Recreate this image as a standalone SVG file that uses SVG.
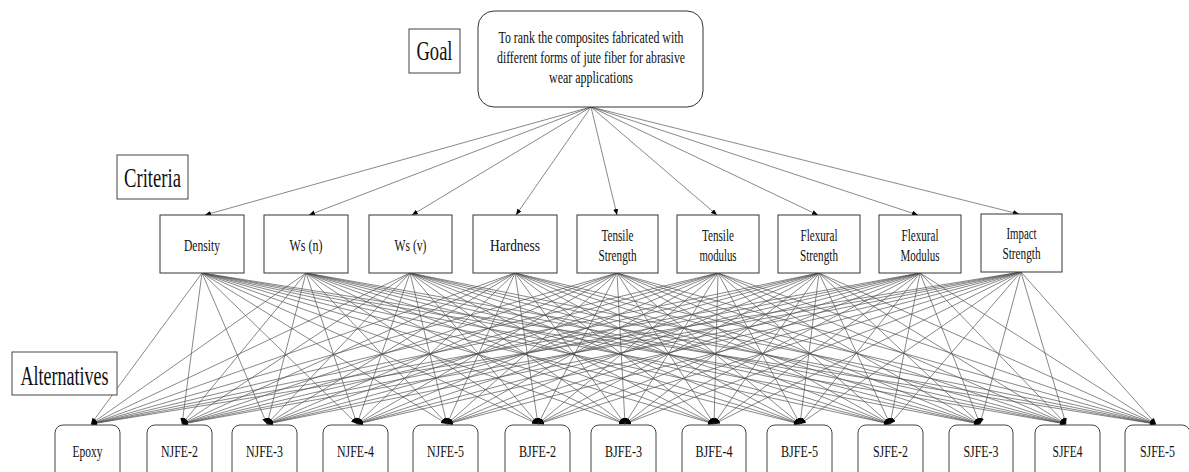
<svg xmlns="http://www.w3.org/2000/svg" width="1189" height="472" viewBox="0 0 1189 472">
<style>
.bg{fill:#fff}
.lbl{fill:#fff;stroke:#444;stroke-width:1}
.crit{fill:#fff;stroke:#333;stroke-width:1}
.alt{fill:#fff;stroke:#444;stroke-width:1}
.goal{fill:#fff;stroke:#333;stroke-width:1}
text{font-family:"Liberation Serif","Times New Roman",serif;fill:#111;text-anchor:middle}
.big{font-size:28px}
.t{font-size:16px}
.c{font-size:16.5px}
.a{font-size:17px}
.con line{stroke:#555;stroke-width:0.7;marker-end:url(#ah)}
</style>
<defs>
<marker id="ah" markerUnits="userSpaceOnUse" markerWidth="7" markerHeight="6" refX="6" refY="2.5" orient="auto">
<path d="M0,0 L6,2.5 L0,5 z" fill="#000"/>
</marker>
</defs>
<rect class="bg" x="0" y="0" width="1189" height="472"/>
<g id="connectors" class="con">
<line x1="591" y1="107" x2="205" y2="215"/>
<line x1="591" y1="107" x2="309" y2="215"/>
<line x1="591" y1="107" x2="412" y2="215"/>
<line x1="591" y1="107" x2="516" y2="215"/>
<line x1="591" y1="107" x2="617" y2="215"/>
<line x1="591" y1="107" x2="717" y2="215"/>
<line x1="591" y1="107" x2="818" y2="215"/>
<line x1="591" y1="107" x2="918" y2="215"/>
<line x1="591" y1="107" x2="1019" y2="214"/>
<line x1="202" y1="273" x2="91" y2="424"/><line x1="202" y1="273" x2="182" y2="424"/><line x1="202" y1="273" x2="267" y2="424"/><line x1="202" y1="273" x2="357" y2="424"/><line x1="202" y1="273" x2="447" y2="424"/><line x1="202" y1="273" x2="538" y2="424"/><line x1="202" y1="273" x2="625" y2="424"/><line x1="202" y1="273" x2="714" y2="424"/><line x1="202" y1="273" x2="800" y2="424"/><line x1="202" y1="273" x2="890" y2="424"/><line x1="202" y1="273" x2="980" y2="424"/><line x1="202" y1="273" x2="1066" y2="424"/><line x1="202" y1="273" x2="1156" y2="424"/>
<line x1="306" y1="273" x2="91" y2="424"/><line x1="306" y1="273" x2="182" y2="424"/><line x1="306" y1="273" x2="267" y2="424"/><line x1="306" y1="273" x2="357" y2="424"/><line x1="306" y1="273" x2="447" y2="424"/><line x1="306" y1="273" x2="538" y2="424"/><line x1="306" y1="273" x2="625" y2="424"/><line x1="306" y1="273" x2="714" y2="424"/><line x1="306" y1="273" x2="800" y2="424"/><line x1="306" y1="273" x2="890" y2="424"/><line x1="306" y1="273" x2="980" y2="424"/><line x1="306" y1="273" x2="1066" y2="424"/><line x1="306" y1="273" x2="1156" y2="424"/>
<line x1="410" y1="273" x2="91" y2="424"/><line x1="410" y1="273" x2="182" y2="424"/><line x1="410" y1="273" x2="267" y2="424"/><line x1="410" y1="273" x2="357" y2="424"/><line x1="410" y1="273" x2="447" y2="424"/><line x1="410" y1="273" x2="538" y2="424"/><line x1="410" y1="273" x2="625" y2="424"/><line x1="410" y1="273" x2="714" y2="424"/><line x1="410" y1="273" x2="800" y2="424"/><line x1="410" y1="273" x2="890" y2="424"/><line x1="410" y1="273" x2="980" y2="424"/><line x1="410" y1="273" x2="1066" y2="424"/><line x1="410" y1="273" x2="1156" y2="424"/>
<line x1="515" y1="273" x2="91" y2="424"/><line x1="515" y1="273" x2="182" y2="424"/><line x1="515" y1="273" x2="267" y2="424"/><line x1="515" y1="273" x2="357" y2="424"/><line x1="515" y1="273" x2="447" y2="424"/><line x1="515" y1="273" x2="538" y2="424"/><line x1="515" y1="273" x2="625" y2="424"/><line x1="515" y1="273" x2="714" y2="424"/><line x1="515" y1="273" x2="800" y2="424"/><line x1="515" y1="273" x2="890" y2="424"/><line x1="515" y1="273" x2="980" y2="424"/><line x1="515" y1="273" x2="1066" y2="424"/><line x1="515" y1="273" x2="1156" y2="424"/>
<line x1="617" y1="273" x2="91" y2="424"/><line x1="617" y1="273" x2="182" y2="424"/><line x1="617" y1="273" x2="267" y2="424"/><line x1="617" y1="273" x2="357" y2="424"/><line x1="617" y1="273" x2="447" y2="424"/><line x1="617" y1="273" x2="538" y2="424"/><line x1="617" y1="273" x2="625" y2="424"/><line x1="617" y1="273" x2="714" y2="424"/><line x1="617" y1="273" x2="800" y2="424"/><line x1="617" y1="273" x2="890" y2="424"/><line x1="617" y1="273" x2="980" y2="424"/><line x1="617" y1="273" x2="1066" y2="424"/><line x1="617" y1="273" x2="1156" y2="424"/>
<line x1="718" y1="273" x2="91" y2="424"/><line x1="718" y1="273" x2="182" y2="424"/><line x1="718" y1="273" x2="267" y2="424"/><line x1="718" y1="273" x2="357" y2="424"/><line x1="718" y1="273" x2="447" y2="424"/><line x1="718" y1="273" x2="538" y2="424"/><line x1="718" y1="273" x2="625" y2="424"/><line x1="718" y1="273" x2="714" y2="424"/><line x1="718" y1="273" x2="800" y2="424"/><line x1="718" y1="273" x2="890" y2="424"/><line x1="718" y1="273" x2="980" y2="424"/><line x1="718" y1="273" x2="1066" y2="424"/><line x1="718" y1="273" x2="1156" y2="424"/>
<line x1="819" y1="273" x2="91" y2="424"/><line x1="819" y1="273" x2="182" y2="424"/><line x1="819" y1="273" x2="267" y2="424"/><line x1="819" y1="273" x2="357" y2="424"/><line x1="819" y1="273" x2="447" y2="424"/><line x1="819" y1="273" x2="538" y2="424"/><line x1="819" y1="273" x2="625" y2="424"/><line x1="819" y1="273" x2="714" y2="424"/><line x1="819" y1="273" x2="800" y2="424"/><line x1="819" y1="273" x2="890" y2="424"/><line x1="819" y1="273" x2="980" y2="424"/><line x1="819" y1="273" x2="1066" y2="424"/><line x1="819" y1="273" x2="1156" y2="424"/>
<line x1="920" y1="273" x2="91" y2="424"/><line x1="920" y1="273" x2="182" y2="424"/><line x1="920" y1="273" x2="267" y2="424"/><line x1="920" y1="273" x2="357" y2="424"/><line x1="920" y1="273" x2="447" y2="424"/><line x1="920" y1="273" x2="538" y2="424"/><line x1="920" y1="273" x2="625" y2="424"/><line x1="920" y1="273" x2="714" y2="424"/><line x1="920" y1="273" x2="800" y2="424"/><line x1="920" y1="273" x2="890" y2="424"/><line x1="920" y1="273" x2="980" y2="424"/><line x1="920" y1="273" x2="1066" y2="424"/><line x1="920" y1="273" x2="1156" y2="424"/>
<line x1="1021" y1="272" x2="91" y2="424"/><line x1="1021" y1="272" x2="182" y2="424"/><line x1="1021" y1="272" x2="267" y2="424"/><line x1="1021" y1="272" x2="357" y2="424"/><line x1="1021" y1="272" x2="447" y2="424"/><line x1="1021" y1="272" x2="538" y2="424"/><line x1="1021" y1="272" x2="625" y2="424"/><line x1="1021" y1="272" x2="714" y2="424"/><line x1="1021" y1="272" x2="800" y2="424"/><line x1="1021" y1="272" x2="890" y2="424"/><line x1="1021" y1="272" x2="980" y2="424"/><line x1="1021" y1="272" x2="1066" y2="424"/><line x1="1021" y1="272" x2="1156" y2="424"/>
</g>
<g id="label-goal"><rect class="lbl" x="409" y="29" width="51" height="44"/><text class="big" x="434.5" y="60" textLength="36" lengthAdjust="spacingAndGlyphs">Goal</text></g>
<g id="label-criteria"><rect class="lbl" x="117" y="155" width="71" height="44"/><text class="big" x="152.5" y="187" textLength="57" lengthAdjust="spacingAndGlyphs">Criteria</text></g>
<g id="label-alternatives"><rect class="lbl" x="12" y="352" width="105" height="43"/><text class="big" x="64.5" y="385" textLength="88" lengthAdjust="spacingAndGlyphs">Alternatives</text></g>
<g id="goal"><rect class="goal" x="478" y="11" width="225" height="96" rx="16"/>
<text class="t" x="591" y="43" textLength="185" lengthAdjust="spacingAndGlyphs">To rank the composites fabricated with</text>
<text class="t" x="591" y="63" textLength="188" lengthAdjust="spacingAndGlyphs">different forms of jute fiber for abrasive</text>
<text class="t" x="591" y="83" textLength="84" lengthAdjust="spacingAndGlyphs">wear applications</text></g>
<g id="c-density"><rect class="crit" x="160" y="215" width="84" height="58"/><text class="c" x="202" y="251" textLength="36" lengthAdjust="spacingAndGlyphs">Density</text></g>
<g id="c-wsn"><rect class="crit" x="264" y="215" width="84" height="58"/><text class="c" x="306" y="251" textLength="33" lengthAdjust="spacingAndGlyphs">Ws (n)</text></g>
<g id="c-wsv"><rect class="crit" x="369" y="215" width="83" height="58"/><text class="c" x="410.5" y="251" textLength="32" lengthAdjust="spacingAndGlyphs">Ws (v)</text></g>
<g id="c-hardness"><rect class="crit" x="473" y="215" width="84" height="58"/><text class="c" x="515" y="251" textLength="50" lengthAdjust="spacingAndGlyphs">Hardness</text></g>
<g id="c-tensile-strength"><rect class="crit" x="577" y="215" width="81" height="58"/><text class="c" x="617.5" y="241" textLength="32" lengthAdjust="spacingAndGlyphs">Tensile</text><text class="c" x="617.5" y="261" textLength="38" lengthAdjust="spacingAndGlyphs">Strength</text></g>
<g id="c-tensile-modulus"><rect class="crit" x="677" y="215" width="82" height="58"/><text class="c" x="718" y="241" textLength="32" lengthAdjust="spacingAndGlyphs">Tensile</text><text class="c" x="718" y="261" textLength="37" lengthAdjust="spacingAndGlyphs">modulus</text></g>
<g id="c-flexural-strength"><rect class="crit" x="778" y="215" width="82" height="58"/><text class="c" x="819" y="241" textLength="37" lengthAdjust="spacingAndGlyphs">Flexural</text><text class="c" x="819" y="261" textLength="38" lengthAdjust="spacingAndGlyphs">Strength</text></g>
<g id="c-flexural-modulus"><rect class="crit" x="879" y="215" width="82" height="58"/><text class="c" x="920" y="241" textLength="37" lengthAdjust="spacingAndGlyphs">Flexural</text><text class="c" x="920" y="261" textLength="39" lengthAdjust="spacingAndGlyphs">Modulus</text></g>
<g id="c-impact-strength"><rect class="crit" x="981" y="214" width="81" height="58"/><text class="c" x="1021.5" y="239" textLength="30" lengthAdjust="spacingAndGlyphs">Impact</text><text class="c" x="1021.5" y="259" textLength="38" lengthAdjust="spacingAndGlyphs">Strength</text></g>
<g id="a-epoxy"><rect class="alt" x="55" y="425" width="65" height="62" rx="8"/><text class="a" x="87.5" y="457" textLength="30" lengthAdjust="spacingAndGlyphs">Epoxy</text></g>
<g id="a-njfe2"><rect class="alt" x="147" y="425" width="65" height="62" rx="8"/><text class="a" x="179.5" y="457" textLength="37" lengthAdjust="spacingAndGlyphs">NJFE-2</text></g>
<g id="a-njfe3"><rect class="alt" x="232" y="425" width="65" height="62" rx="8"/><text class="a" x="264.5" y="457" textLength="37" lengthAdjust="spacingAndGlyphs">NJFE-3</text></g>
<g id="a-njfe4"><rect class="alt" x="323" y="425" width="65" height="62" rx="8"/><text class="a" x="355.5" y="457" textLength="37" lengthAdjust="spacingAndGlyphs">NJFE-4</text></g>
<g id="a-njfe5"><rect class="alt" x="413" y="425" width="65" height="62" rx="8"/><text class="a" x="445.5" y="457" textLength="37" lengthAdjust="spacingAndGlyphs">NJFE-5</text></g>
<g id="a-bjfe2"><rect class="alt" x="505" y="425" width="65" height="62" rx="8"/><text class="a" x="537.5" y="457" textLength="37" lengthAdjust="spacingAndGlyphs">BJFE-2</text></g>
<g id="a-bjfe3"><rect class="alt" x="591" y="425" width="65" height="62" rx="8"/><text class="a" x="623.5" y="457" textLength="37" lengthAdjust="spacingAndGlyphs">BJFE-3</text></g>
<g id="a-bjfe4"><rect class="alt" x="682" y="425" width="64" height="62" rx="8"/><text class="a" x="714" y="457" textLength="37" lengthAdjust="spacingAndGlyphs">BJFE-4</text></g>
<g id="a-bjfe5"><rect class="alt" x="767" y="425" width="65" height="62" rx="8"/><text class="a" x="799.5" y="457" textLength="37" lengthAdjust="spacingAndGlyphs">BJFE-5</text></g>
<g id="a-sjfe2"><rect class="alt" x="858" y="425" width="65" height="62" rx="8"/><text class="a" x="890.5" y="457" textLength="35" lengthAdjust="spacingAndGlyphs">SJFE-2</text></g>
<g id="a-sjfe3"><rect class="alt" x="949" y="425" width="64" height="62" rx="8"/><text class="a" x="981" y="457" textLength="35" lengthAdjust="spacingAndGlyphs">SJFE-3</text></g>
<g id="a-sjfe4"><rect class="alt" x="1035" y="425" width="65" height="62" rx="8"/><text class="a" x="1067.5" y="457" textLength="30" lengthAdjust="spacingAndGlyphs">SJFE4</text></g>
<g id="a-sjfe5"><rect class="alt" x="1125" y="425" width="65" height="62" rx="8"/><text class="a" x="1157.5" y="457" textLength="35" lengthAdjust="spacingAndGlyphs">SJFE-5</text></g>
</svg>
